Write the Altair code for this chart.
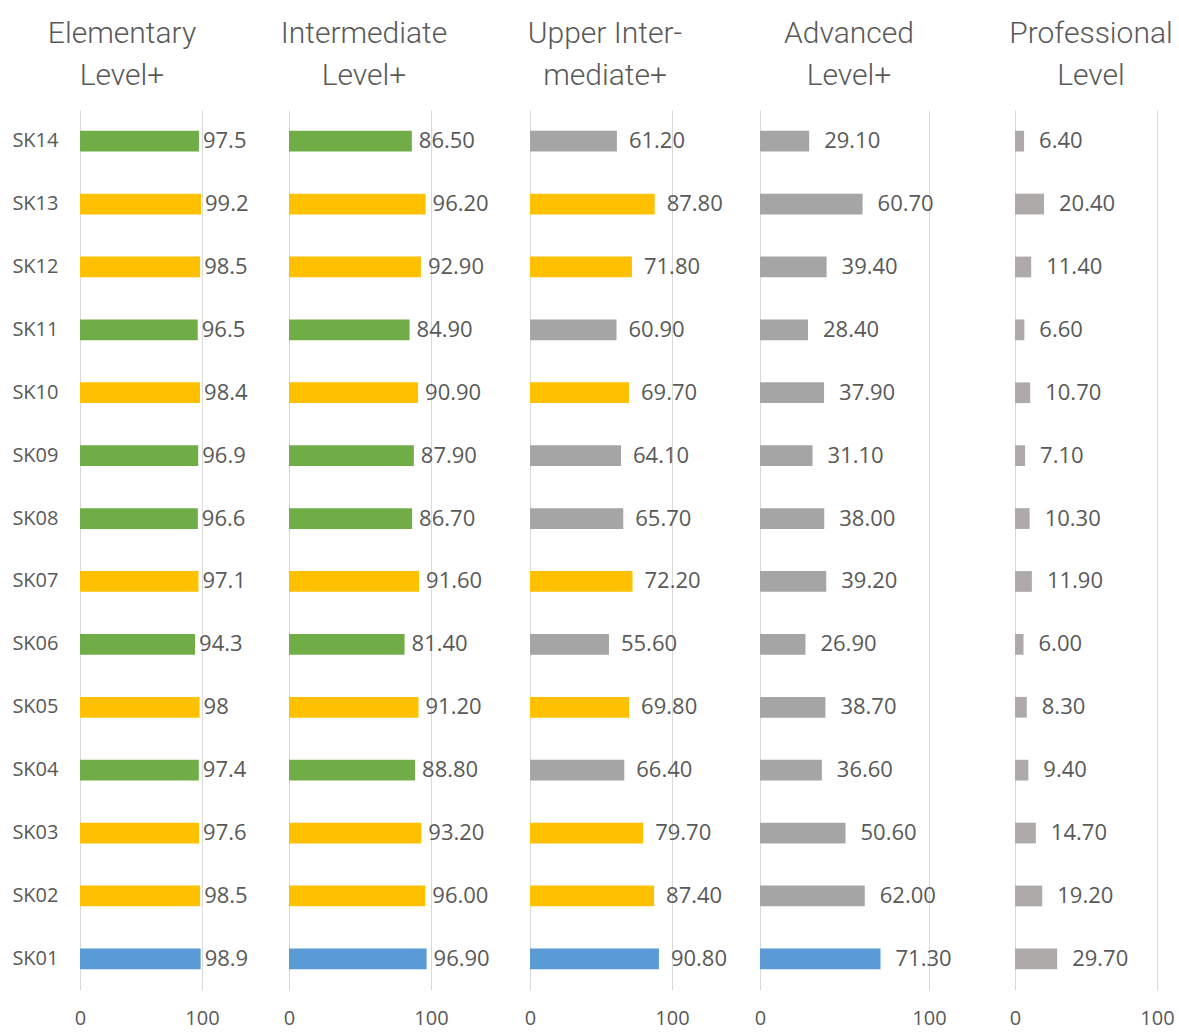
import altair as alt
import pandas as pd

categories = ["SK01", "SK02", "SK03", "SK04", "SK05", "SK06", "SK07",
              "SK08", "SK09", "SK10", "SK11", "SK12", "SK13", "SK14"]
groups = ["blue", "yellow", "yellow", "green", "yellow", "green", "yellow",
          "green", "green", "yellow", "green", "yellow", "yellow", "green"]

titles = [["Elementary", "Level+"], ["Intermediate", "Level+"],
          ["Upper Inter-", "mediate+"], ["Advanced", "Level+"],
          ["Professional", "Level"]]

elementary = [98.9, 98.5, 97.6, 97.4, 98.0, 94.3, 97.1, 96.6, 96.9, 98.4, 96.5, 98.5, 99.2, 97.5]
intermediate = [96.90, 96.00, 93.20, 88.80, 91.20, 81.40, 91.60, 86.70, 87.90, 90.90, 84.90, 92.90, 96.20, 86.50]
upper_intermediate = [90.80, 87.40, 79.70, 66.40, 69.80, 55.60, 72.20, 65.70, 64.10, 69.70, 60.90, 71.80, 87.80, 61.20]
advanced = [71.30, 62.00, 50.60, 36.60, 38.70, 26.90, 39.20, 38.00, 31.10, 37.90, 28.40, 39.40, 60.70, 29.10]
professional = [29.70, 19.20, 14.70, 9.40, 8.30, 6.00, 11.90, 10.30, 7.10, 10.70, 6.60, 11.40, 20.40, 6.40]

series = [elementary, intermediate, upper_intermediate, advanced, professional]

BLUE, YELLOW, GREEN, GRAY, GRAY2 = "#5B9BD5", "#FFC000", "#70AD47", "#A5A5A5", "#AEAAAA"
palettes = [
    {"blue": BLUE, "yellow": YELLOW, "green": GREEN},
    {"blue": BLUE, "yellow": YELLOW, "green": GREEN},
    {"blue": BLUE, "yellow": YELLOW, "green": GRAY},
    {"blue": BLUE, "yellow": GRAY, "green": GRAY},
    {"blue": GRAY2, "yellow": GRAY2, "green": GRAY2},
]

# layout (pixels)
panel_widths = [200, 235, 224, 249, 145]
px_per_100 = [122, 142, 142, 169, 142]
title_dx = [42, 75, 75, 89, 76]
label_dx = [4, 7, 12, 15, 15]
PLOT_H = 880
TEXT = "#595959"


def fmt(i, v):
    if i == 0:
        return f"{v:g}"
    return f"{v:.2f}"


panels = []
for i, vals in enumerate(series):
    df = pd.DataFrame({
        "cat": categories,
        "value": vals,
        "color": [palettes[i][g] for g in groups],
        "label": [fmt(i, v) for v in vals],
    })
    dmax = panel_widths[i] / px_per_100[i] * 100
    x = alt.X("value:Q",
              scale=alt.Scale(domain=[0, dmax], nice=False, zero=True),
              axis=alt.Axis(values=[0, 100], title=None, grid=True, gridColor="#D9D9D9",
                            gridWidth=1, domain=False, ticks=False, labelFontSize=20,
                            labelColor=TEXT, labelFont="Open Sans", labelPadding=18,
                            labelFlush=False))
    if i == 0:
        yaxis = alt.Axis(title=None, domain=False, ticks=False, grid=False,
                         labelFontSize=20, labelFont="Open Sans", labelColor=TEXT,
                         labelPadding=22)
    else:
        yaxis = None
    y = alt.Y("cat:N", sort=categories[::-1],
              scale=alt.Scale(paddingInner=0.67, paddingOuter=0.33),
              axis=yaxis)
    base = alt.Chart(df).encode(x=x, y=y)
    bars = base.mark_bar().encode(color=alt.Color("color:N", scale=None))
    labels = base.mark_text(align="left", baseline="middle", dx=label_dx[i],
                            fontSize=22, font="Open Sans", color=TEXT).encode(text="label:N")
    ch = alt.layer(bars, labels).properties(
        width=panel_widths[i], height=PLOT_H,
        title=alt.TitleParams(text=titles[i], anchor="start", align="center",
                              frame="group", dx=title_dx[i], fontSize=30,
                              font="Roboto", fontWeight=300,
                              color=TEXT, lineHeight=42, offset=19),
    )
    panels.append(ch)

chart = alt.hconcat(*panels, spacing=0).properties(
    padding={"left": 11, "top": 19, "right": 0, "bottom": 0}
).configure_view(stroke=None)

chart.save("out.html", embed_options={"renderer": "svg", "actions": False})
